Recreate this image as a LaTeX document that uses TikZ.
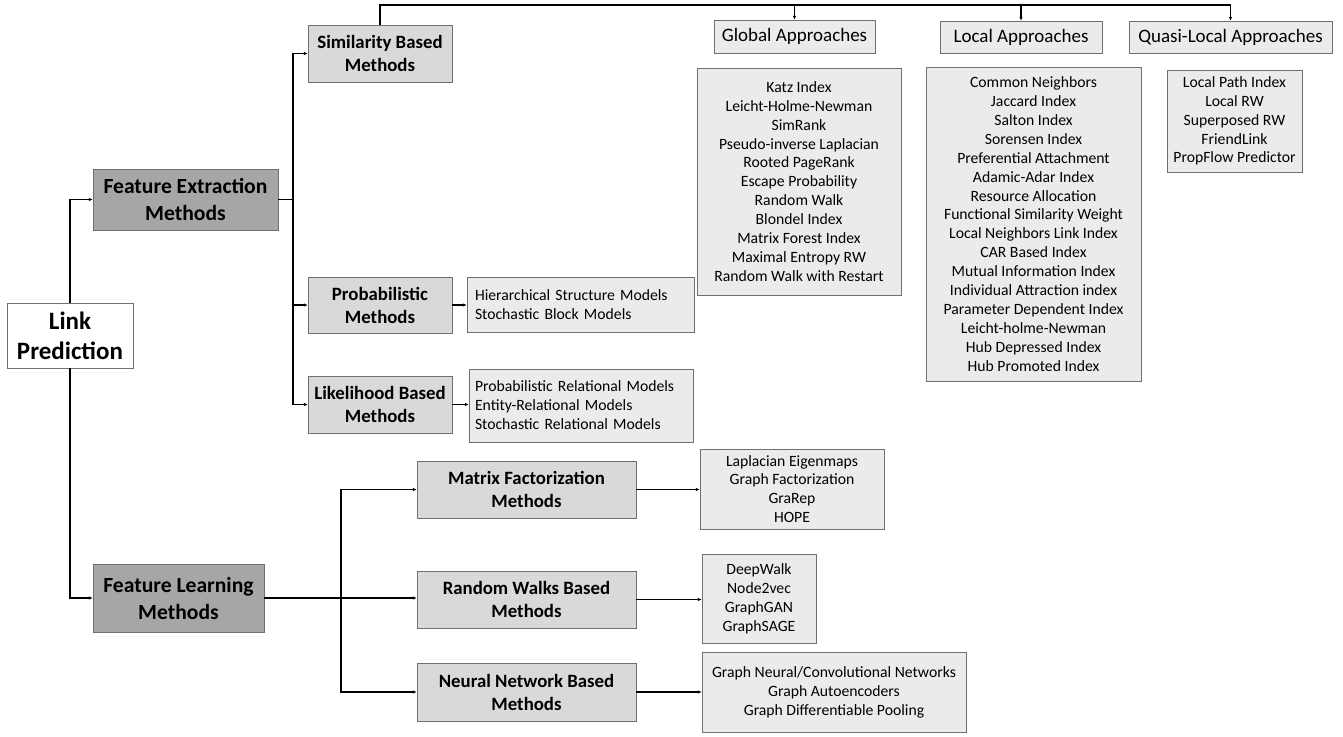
\documentclass[tikz,border=0pt]{standalone}
\usepackage{fontspec}
\setmainfont{Carlito}
\usepackage{xcolor}
\usepackage{tikz}
\usetikzlibrary{arrows.meta,positioning}

\definecolor{edgegray}{HTML}{707070}
\definecolor{darkfill}{HTML}{A6A6A6}
\definecolor{midfill}{HTML}{D9D9D9}
\definecolor{lightfill}{HTML}{EBEBEB}

\begin{document}
\begin{tikzpicture}[
      x=1pt, y=-1pt,
      >=Latex,
      root/.style={draw=edgegray, fill=white, align=center, inner sep=2pt, font=\fontsize{25}{30}\selectfont\bfseries},
      family/.style={draw=edgegray, fill=darkfill, align=center, inner sep=2pt, font=\fontsize{21.6}{27}\selectfont\bfseries},
      method/.style={draw=edgegray, fill=midfill, align=center, inner sep=2pt, font=\fontsize{18.8}{23}\selectfont\bfseries},
      approach/.style={draw=edgegray, fill=lightfill, align=center, inner sep=2pt, font=\fontsize{19}{22}\selectfont},
      items/.style={draw=edgegray, fill=lightfill, align=center, inner sep=2pt, font=\fontsize{15.7}{18.9}\selectfont},
      arr/.style={-{Latex[length=4pt,width=3.5pt]}, line width=1.3pt},
      bus/.style={line width=2.2pt}
    ]
    \useasboundingbox (0,0) rectangle (1343,736);

    % Root and the two families
    \node[root, minimum width=126, minimum height=65] (lp) at (70,335.5) {Link\\Prediction};
    \node[family, minimum width=185, minimum height=61] (fe) at (185.5,199.5) {Feature Extraction\\Methods};
    \node[family, minimum width=171, minimum height=68] (fl) at (178.5,598) {Feature Learning\\Methods};

    % Feature extraction branch
    \node[method, minimum width=144, minimum height=57] (sim) at (380,53.5) {Similarity Based\\Methods};
    \node[method, minimum width=144, minimum height=56] (prob) at (380,305) {Probabilistic\\Methods};
    \node[method, minimum width=144, minimum height=57] (lik) at (380,404.5) {Likelihood Based\\Methods};

    \node[items, align=left, text width=211, inner xsep=8, minimum height=55] (problist) at (580.5,304.5)
      {Hierarchical Structure Models\\Stochastic Block Models};
    \node[items, align=left, text width=212, inner xsep=6, minimum height=73] (liklist) at (581,405.5)
      {Probabilistic Relational Models\\Entity-Relational Models\\Stochastic Relational Models};

    % Similarity approaches (headers along the top bus)
    \node[approach, minimum width=161, minimum height=33] (glob) at (794.5,36.5) {Global Approaches};
    \node[approach, minimum width=162, minimum height=32] (loc) at (1021,37) {Local Approaches};
    \node[approach, minimum width=203, minimum height=32] (quasi) at (1230.5,37) {Quasi-Local Approaches};

    \node[items, minimum width=204, minimum height=227] (globlist) at (799,181.5)
      {Katz Index\\Leicht-Holme-Newman\\SimRank\\Pseudo-inverse Laplacian\\Rooted PageRank\\Escape Probability\\Random Walk\\Blondel Index\\Matrix Forest Index\\Maximal Entropy RW\\Random Walk with Restart};
    \node[items, minimum width=215, minimum height=314] (loclist) at (1033.5,224)
      {Common Neighbors\\Jaccard Index\\Salton Index\\Sorensen Index\\Preferential Attachment\\Adamic-Adar Index\\Resource Allocation\\Functional Similarity Weight\\Local Neighbors Link Index\\CAR Based Index\\Mutual Information Index\\Individual Attraction index\\Parameter Dependent Index\\Leicht-holme-Newman\\Hub Depressed Index\\Hub Promoted Index};
    \node[items, minimum width=135, minimum height=102] (quasilist) at (1234.5,121)
      {Local Path Index\\Local RW\\Superposed RW\\FriendLink\\PropFlow Predictor};

    % Feature learning branch
    \node[method, minimum width=219, minimum height=57] (mf) at (526.5,489.5) {Matrix Factorization\\Methods};
    \node[method, minimum width=219, minimum height=57] (rw) at (526.5,599.5) {Random Walks Based\\Methods};
    \node[method, minimum width=219, minimum height=58] (nn) at (526.5,692) {Neural Network Based\\Methods};

    \node[items, minimum width=184, minimum height=80] (mflist) at (792,489)
      {Laplacian Eigenmaps\\Graph Factorization\\GraRep\\HOPE};
    \node[items, minimum width=114, minimum height=89] (rwlist) at (759,598.5)
      {DeepWalk\\Node2vec\\GraphGAN\\GraphSAGE};
    \node[items, minimum width=264, minimum height=80] (nnlist) at (834,692)
      {Graph Neural/Convolutional Networks\\Graph Autoencoders\\Graph Differentiable Pooling};

    % Root to families
    \draw[arr] (lp.north) |- (fe.west);
    \draw[arr] (lp.south) |- (fl.west);

    % Extraction fan-out
    \coordinate (fejoint) at (293,199.5);
    \draw[arr] (fe.east) -- (fejoint) |- (sim.west);
    \draw[arr] (fejoint) |- (prob.west);
    \draw[arr] (fejoint) |- (lik.west);
    \draw[arr] (prob.east) -- (problist.west |- prob.east);
    \draw[arr] (lik.east) -- (liklist.west |- lik.east);

    % Top bus from similarity methods to the approaches
    \coordinate (topbus) at (380,5);
    \draw[bus] (sim.north) -- (topbus) -- (quasi.north |- topbus);
    \draw[arr] (glob.north |- topbus) -- (glob.north);
    \draw[arr] (loc.north |- topbus) -- (loc.north);
    \draw[arr] (quasi.north |- topbus) -- (quasi.north);

    % Learning fan-out
    \coordinate (fljoint) at (341,598);
    \draw[arr] (fl.east) -- (fljoint) |- (mf.west);
    \draw[arr] (fljoint) -- (rw.west |- fljoint);
    \draw[arr] (fljoint) |- (nn.west);
    \draw[arr] (mf.east) -- (mflist.west |- mf.east);
    \draw[arr] (rw.east) -- (rwlist.west |- rw.east);
    \draw[arr] (nn.east) -- (nnlist.west);
  \end{tikzpicture}
\end{document}
